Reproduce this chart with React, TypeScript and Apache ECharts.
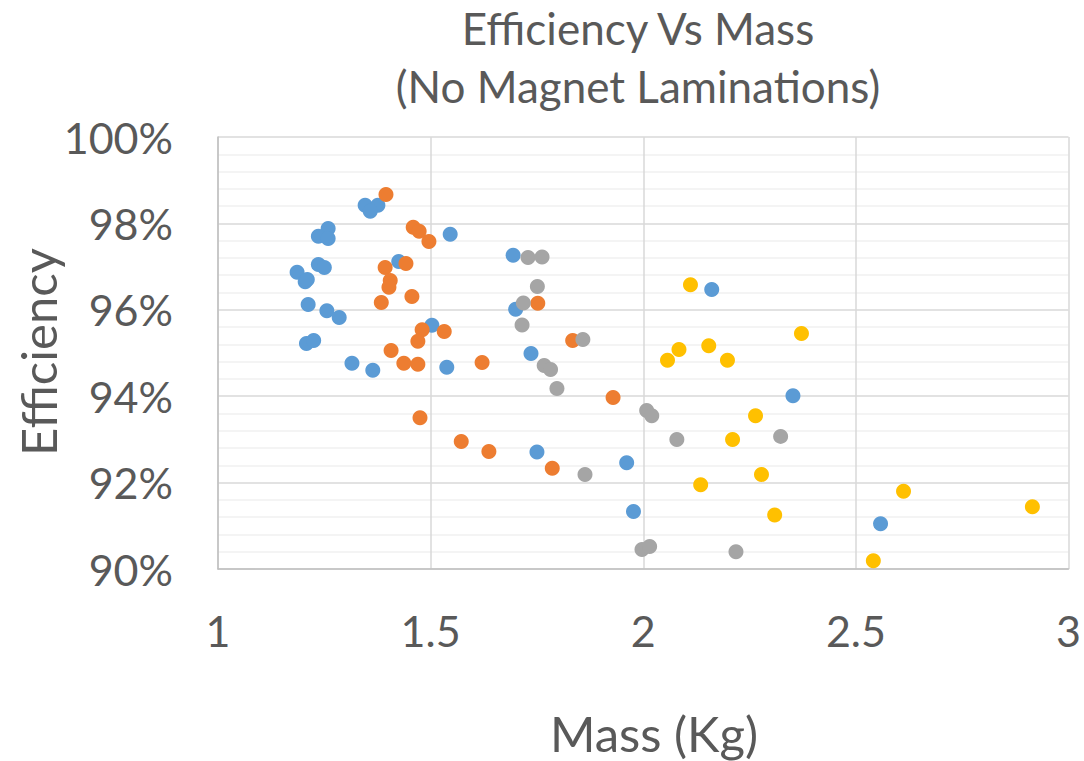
import React, { useEffect, useRef } from "react";
import * as echarts from "echarts";

const seriesNames = ["Series1", "Series2", "Series3", "Series4"];
const colors = ["#5B9BD5", "#ED7D31", "#A5A5A5", "#FFC000"];

// [mass kg, efficiency %]
const blue: [number, number][] = [
  [1.346, 98.42], [1.376, 98.42], [1.358, 98.28], [1.259, 97.88], [1.236, 97.7],
  [1.259, 97.65], [1.546, 97.75], [1.236, 97.05], [1.25, 96.98], [1.186, 96.87],
  [1.205, 96.65], [1.21, 96.7], [1.425, 97.12], [1.212, 96.12], [1.256, 95.98],
  [1.285, 95.82], [1.208, 95.22], [1.225, 95.29], [1.315, 94.76], [1.364, 94.6],
  [1.503, 95.64], [1.538, 94.67], [1.694, 97.26], [1.7, 96.01], [1.736, 94.99],
  [2.161, 96.47], [2.352, 94.01], [1.75, 92.71], [1.961, 92.46], [1.977, 91.33],
  [2.558, 91.05],
];
const orange: [number, number][] = [
  [1.395, 98.67], [1.459, 97.91], [1.473, 97.82], [1.496, 97.58], [1.393, 96.98],
  [1.442, 97.07], [1.405, 96.68], [1.402, 96.52], [1.456, 96.31], [1.384, 96.17],
  [1.48, 95.54], [1.532, 95.5], [1.47, 95.27], [1.407, 95.06], [1.437, 94.76],
  [1.47, 94.74], [1.621, 94.78], [1.475, 93.5], [1.572, 92.95], [1.637, 92.72],
  [1.752, 96.15], [1.834, 95.29], [1.929, 93.97], [1.786, 92.33],
];
const gray: [number, number][] = [
  [1.729, 97.21], [1.762, 97.22], [1.751, 96.54], [1.718, 96.16], [1.715, 95.65],
  [1.858, 95.31], [1.767, 94.71], [1.782, 94.62], [1.797, 94.18], [2.008, 93.67],
  [2.02, 93.55], [2.079, 93.0], [2.323, 93.07], [1.863, 92.19], [1.997, 90.45],
  [2.015, 90.52], [2.218, 90.4],
];
const yellow: [number, number][] = [
  [2.111, 96.58], [2.372, 95.45], [2.084, 95.08], [2.154, 95.17], [2.057, 94.83],
  [2.198, 94.83], [2.264, 93.55], [2.21, 93.0], [2.278, 92.19], [2.135, 91.95],
  [2.309, 91.25], [2.612, 91.8], [2.915, 91.44], [2.541, 90.19],
];

const titleLines = ["Efficiency Vs Mass", "(No Magnet Laminations)"];
const xTitle = "Mass (Kg)";
const yTitle = "Efficiency";

const FONT = "Lato, 'Open Sans', sans-serif";
const TEXT = "#595959";

export default function App() {
  const ref = useRef<HTMLDivElement>(null);
  useEffect(() => {
    if (!ref.current) return;
    const chart = echarts.init(ref.current, undefined, { renderer: "svg" });
    const allData = [blue, orange, gray, yellow];
    chart.setOption({
      animation: false,
      backgroundColor: "#fff",
      grid: { left: 218, right: 14, top: 137, bottom: 192, containLabel: false },
      xAxis: {
        type: "value",
        min: 1,
        max: 3,
        interval: 0.5,
        axisLine: { show: true, lineStyle: { color: "#BFBFBF", width: 1.5 } },
        axisTick: { show: false },
        axisLabel: { color: TEXT, fontSize: 43, fontFamily: FONT, margin: 40 },
        splitLine: { show: true, lineStyle: { color: "#D9D9D9", width: 1.5 } },
      },
      yAxis: {
        type: "value",
        min: 90,
        max: 100,
        interval: 2,
        axisLine: { show: true, lineStyle: { color: "#BFBFBF", width: 1.5 } },
        axisTick: { show: false },
        axisLabel: {
          color: TEXT,
          fontSize: 43,
          fontFamily: FONT,
          margin: 45,
          formatter: (v: number) => `${v}%`,
        },
        splitLine: { show: true, lineStyle: { color: "#D9D9D9", width: 1.5 } },
        minorTick: { show: false, splitNumber: 5 },
        minorSplitLine: { show: true, lineStyle: { color: "#F0F0F0", width: 1.5 } },
      },
      graphic: [
        {
          type: "text",
          x: 638,
          y: 28,
          style: {
            text: titleLines[0],
            fill: TEXT,
            font: `44px ${FONT}`,
            textAlign: "center",
            textVerticalAlign: "middle",
          },
        },
        {
          type: "text",
          x: 638,
          y: 86,
          style: {
            text: titleLines[1],
            fill: TEXT,
            font: `44px ${FONT}`,
            textAlign: "center",
            textVerticalAlign: "middle",
          },
        },
        {
          type: "text",
          x: 654,
          y: 733,
          style: {
            text: xTitle,
            fill: TEXT,
            font: `49px ${FONT}`,
            textAlign: "center",
            textVerticalAlign: "middle",
          },
        },
        {
          type: "text",
          x: 38,
          y: 352,
          rotation: Math.PI / 2,
          style: {
            text: yTitle,
            fill: TEXT,
            font: `49px ${FONT}`,
            textAlign: "center",
            textVerticalAlign: "middle",
          },
        },
      ],
      series: allData.map((d, i) => ({
        name: seriesNames[i],
        type: "scatter",
        data: d,
        symbol: "circle",
        symbolSize: 15,
        itemStyle: { color: colors[i], opacity: 1 },
      })),
    });
    return () => chart.dispose();
  }, []);
  return (
    <div
      ref={ref}
      style={{ width: 1084, height: 761, position: "absolute", left: 0, top: 0 }}
    />
  );
}
